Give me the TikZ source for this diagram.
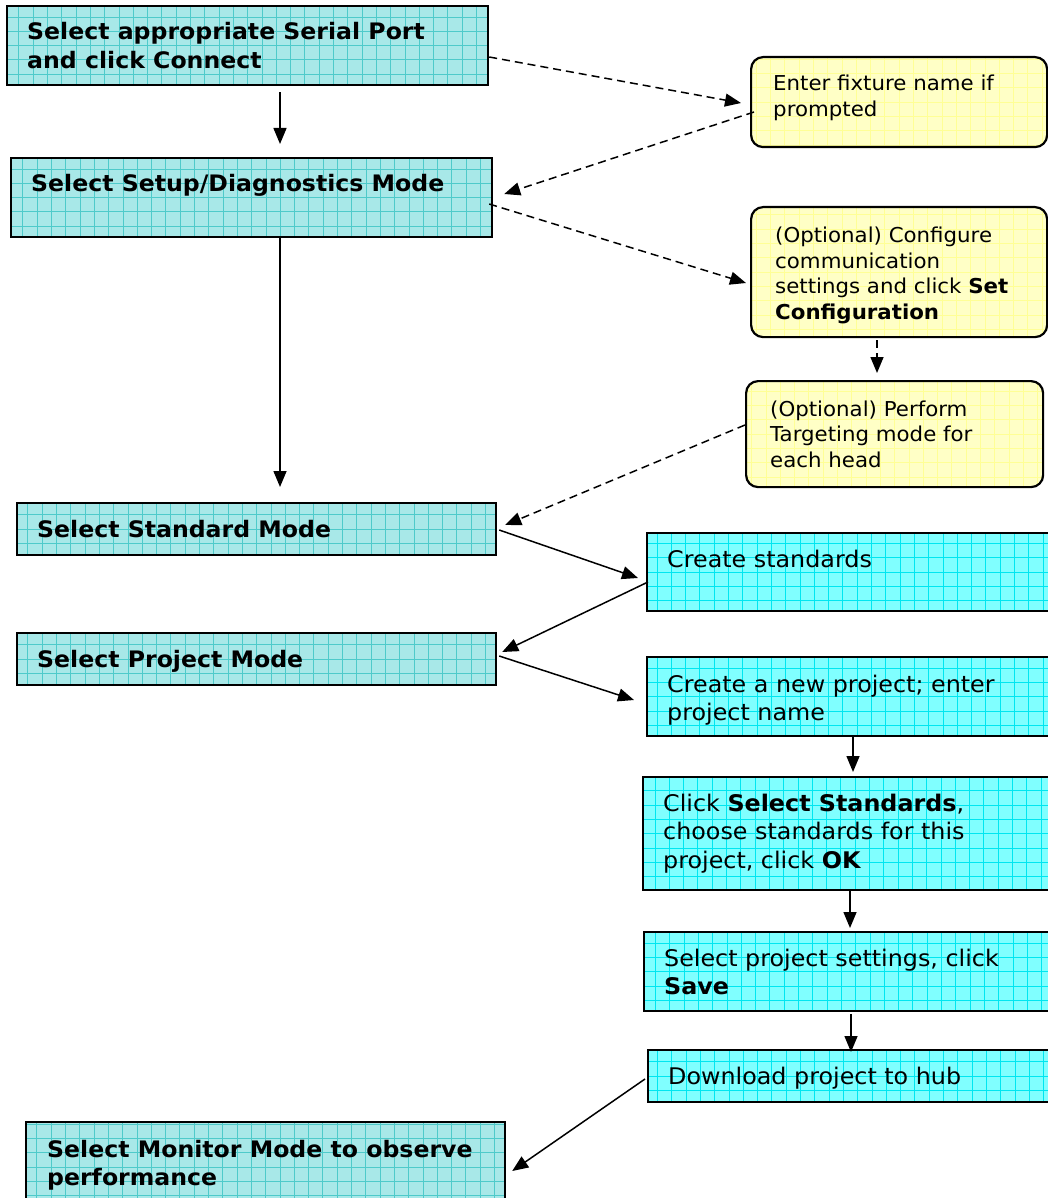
\documentclass[tikz,border=0pt]{standalone}
\usepackage{fontspec}
\setmainfont{DejaVu Sans}[FakeStretch=1.04]
\usetikzlibrary{arrows.meta,calc}
\definecolor{tealfill}{HTML}{A8E8E8}
\definecolor{tealgrid}{HTML}{4ECACA}
\definecolor{cyanfill}{HTML}{80FFFF}
\definecolor{cyangrid}{HTML}{00E6F0}
\definecolor{yelfill}{HTML}{FFFFC6}
\definecolor{yelgrid}{HTML}{FFFF96}
\begin{document}
\begin{tikzpicture}[x=1pt,y=-1pt,
  gridpic/.style={path picture={\draw[#1, line width=0.8pt, step=14.3pt] (path picture bounding box.south west) grid (path picture bounding box.north east);}},
  tealbox/.style={draw=black, line width=2.2pt, fill=tealfill, gridpic=tealgrid, anchor=north west, inner sep=0pt},
  cyanbox/.style={draw=black, line width=2.2pt, fill=cyanfill, gridpic=cyangrid, anchor=north west, inner sep=0pt},
  yelbox/.style={draw=black, line width=2.2pt, fill=yelfill, gridpic=yelgrid, rounded corners=12pt, anchor=north west, inner sep=0pt},
  boldtxt/.style={anchor=base west, inner sep=0pt, font=\fontsize{22.7}{28.5}\selectfont\bfseries},
  cyantxt/.style={anchor=base west, inner sep=0pt, font=\fontsize{22.9}{28.5}\selectfont},
  yeltxt/.style={anchor=base west, inner sep=0pt, font=\fontsize{20.5}{25.5}\selectfont},
  arr/.style={-{Triangle[length=16pt,width=13pt]}, line width=1.5pt},
  darr/.style={arr, dash pattern=on 8pt off 5pt}
]
\useasboundingbox (0,0) rectangle (1048,1198);
\fill[white] (0,0) rectangle (1048,1198);
\clip (0,0) rectangle (1048,1198);

% left mode boxes
\node[tealbox, minimum width=481pt, minimum height=79pt] (b1) at (6,5) {};
\node[tealbox, minimum width=481pt, minimum height=79pt] (b2) at (10,157) {};
\node[tealbox, minimum width=479pt, minimum height=52pt] (b3) at (16,502) {};
\node[tealbox, minimum width=479pt, minimum height=52pt] (b4) at (16,632) {};
\node[tealbox, minimum width=479pt, minimum height=90pt] (b5) at (25,1121) {};

\node[boldtxt] (t1) at ($(b1.north west)+(21,35)$) {\begin{tabular}[t]{@{}l@{}}Select appropriate Serial Port\\and click Connect\end{tabular}};
\node[boldtxt] (t2) at ($(b2.north west)+(21,35)$) {Select Setup/Diagnostics Mode};
\node[boldtxt] (t3) at ($(b3.north west)+(21,35)$) {Select Standard Mode};
\node[boldtxt] (t4) at ($(b4.north west)+(21,35)$) {Select Project Mode};
\node[boldtxt] (t5) at ($(b5.north west)+(22,36)$) {\begin{tabular}[t]{@{}l@{}}Select Monitor Mode to observe\\performance\end{tabular}};

% yellow optional boxes
\node[yelbox, minimum width=296pt, minimum height=90pt] (y1) at (750,56) {};
\node[yelbox, minimum width=296pt, minimum height=130pt] (y2) at (750,206) {};
\node[yelbox, minimum width=297pt, minimum height=106pt] (y3) at (745,380) {};

\node[yeltxt] (u1) at ($(y1.north west)+(23,35)$) {\begin{tabular}[t]{@{}l@{}}Enter fixture name if\\prompted\end{tabular}};
\node[yeltxt] (u2) at ($(y2.north west)+(25,37)$) {\begin{tabular}[t]{@{}l@{}}(Optional) Configure\\communication\\settings and click \textbf{Set}\\\textbf{Configuration}\end{tabular}};
\node[yeltxt] (u3) at ($(y3.north west)+(25,36)$) {\begin{tabular}[t]{@{}l@{}}(Optional) Perform\\Targeting mode for\\each head\end{tabular}};

% cyan step boxes
\node[cyanbox, minimum width=420pt, minimum height=78pt] (c1) at (646,532) {};
\node[cyanbox, minimum width=420pt, minimum height=79pt] (c2) at (646,656) {};
\node[cyanbox, minimum width=424pt, minimum height=113pt] (c3) at (642,776) {};
\node[cyanbox, minimum width=423pt, minimum height=79pt] (c4) at (643,931) {};
\node[cyanbox, minimum width=419pt, minimum height=52pt] (c5) at (647,1049) {};

\node[cyantxt] (v1) at ($(c1.north west)+(21,35)$) {Create standards};
\node[cyantxt] (v2) at ($(c2.north west)+(21,36)$) {\begin{tabular}[t]{@{}l@{}}Create a new project; enter\\project name\end{tabular}};
\node[cyantxt] (v3) at ($(c3.north west)+(21,35)$) {\begin{tabular}[t]{@{}l@{}}Click \textbf{Select Standards},\\choose standards for this\\project, click \textbf{OK}\end{tabular}};
\node[cyantxt] (v4) at ($(c4.north west)+(21,35)$) {\begin{tabular}[t]{@{}l@{}}Select project settings, click\\\textbf{Save}\end{tabular}};
\node[cyantxt] (v5) at ($(c5.north west)+(21,35)$) {Download project to hub};

% solid connectors
\draw[arr] ($(b1.south west)+(274,6)$) -- ($(b2.north west)+(270,-13)$);
\draw[arr] ($(b2.south west)+(270,0)$) -- ($(b3.north west)+(264,-15)$);
\draw[arr] ($(b3.north east)+(2,28)$) -- ($(c1.north west)+(-8,46)$);
\draw[arr] ($(c1.north west)+(2,50)$) -- ($(b4.north east)+(5,20)$);
\draw[arr] ($(b4.north east)+(2,24)$) -- ($(c2.north west)+(-12,44)$);
\draw[arr] ($(c2.south west)+(207,0)$) -- ($(c3.north west)+(211,-4)$);
\draw[arr] ($(c3.south west)+(208,0)$) -- ($(c4.north west)+(207,-3)$);
\draw[arr] ($(c4.south west)+(208,2)$) -- ($(c5.north west)+(204,3)$);
\draw[arr] ($(c5.north west)+(-2,30)$) -- ($(b5.north east)+(6,50)$);

% dashed connectors
\draw[darr] ($(b1.north east)+(0,52)$) -- ($(y1.north west)+(-9,47)$);
\draw[darr] ($(y1.north west)+(4,56)$) -- ($(b2.north east)+(11,37)$);
\draw[darr] ($(b2.north east)+(-4,47)$) -- ($(y2.north west)+(-4,77)$);
\draw[darr] ($(y2.south west)+(127,2)$) -- ($(y3.north west)+(132,-7)$);
\draw[darr] ($(y3.north west)+(0,45)$) -- ($(b3.north east)+(8,23)$);
\end{tikzpicture}
\end{document}
